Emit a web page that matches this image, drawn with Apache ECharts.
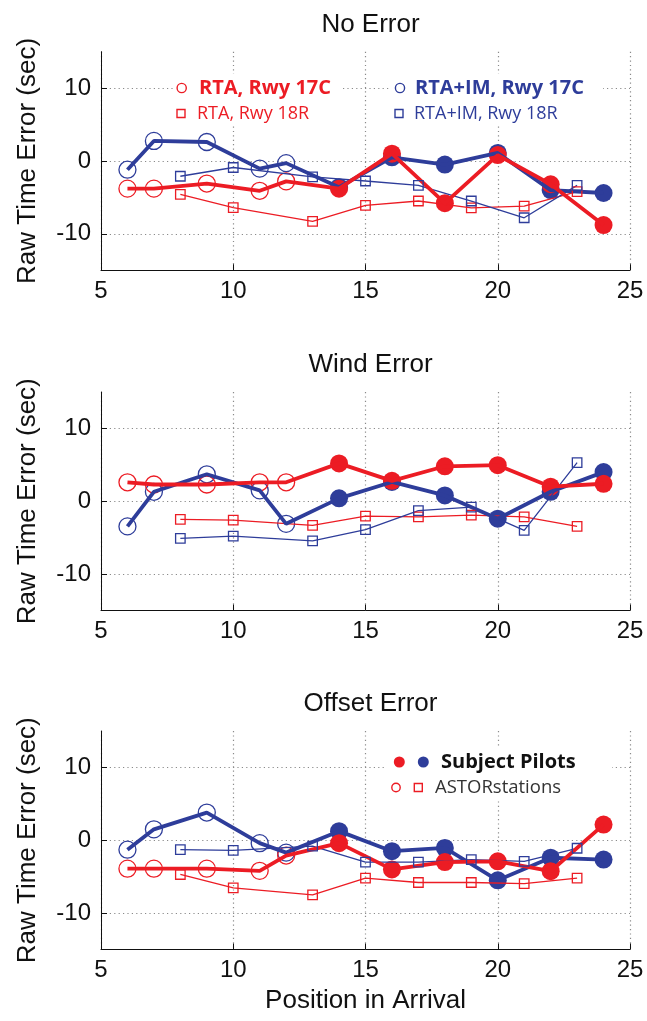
<!DOCTYPE html>
<html>
<head>
<meta charset="utf-8">
<script src="https://cdn.jsdelivr.net/npm/echarts@6/dist/echarts.min.js"></script>
<style>
  html, body { margin: 0; padding: 0; background: #fff; }
  #chart { width: 647px; height: 1021px; }
</style>
</head>
<body>
<div id="chart"></div>
<script>
// Arrival positions of each aircraft group
const posAstor17C = [6, 7, 9, 11, 12];          // ASTOR stations, Rwy 17C
const posPilot17C = [14, 16, 18, 20, 22, 24];   // subject pilots, Rwy 17C
const pos18R = [8, 10, 13, 15, 17, 19, 21, 23]; // ASTOR stations, Rwy 18R

const panelTitles = ['No Error', 'Wind Error', 'Offset Error'];
const xTickValues = [5, 10, 15, 20, 25];
const yTickValues = [-10, 0, 10];

// No Error (sec)
const noErrRta17Astor = [-3.8, -3.8, -3.1, -4.1, -2.8];
const noErrRta17Pilot = [-3.8, 1.0, -5.8, 0.8, -3.2, -8.8];
const noErrIm17Astor = [-1.2, 2.75, 2.6, -1.05, -0.3];
const noErrIm17Pilot = [-3.6, 0.5, -0.5, 1.1, -4.0, -4.4];
const noErrRta18 = [-4.6, -6.4, -8.3, -6.1, -5.5, -6.45, -6.2, -4.2];
const noErrIm18 = [-2.1, -0.9, -2.2, -2.75, -3.35, -5.5, -7.8, -3.35];

// Wind Error (sec)
const windRta17Astor = [2.6, 2.3, 2.3, 2.6, 2.6];
const windRta17Pilot = [5.2, 2.8, 4.8, 4.95, 2.0, 2.4];
const windIm17Astor = [-3.45, 1.3, 3.7, 1.5, -3.1];
const windIm17Pilot = [0.4, 2.65, 0.8, -2.4, 1.3, 4.0];
const windRta18 = [-2.5, -2.6, -3.3, -2.05, -2.15, -1.9, -2.15, -3.45];
const windIm18 = [-5.1, -4.8, -5.45, -3.9, -1.3, -0.8, -4.0, 5.3];

// Offset Error (sec)
const offRta17Astor = [-3.9, -3.9, -3.9, -4.2, -2.1];
const offRta17Pilot = [-0.4, -4.0, -3.0, -2.9, -4.25, 2.15];
const offIm17Astor = [-1.3, 1.5, 3.8, -0.4, -1.7];
const offIm17Pilot = [1.25, -1.5, -1.05, -5.5, -2.4, -2.65];
const offRta18 = [-4.7, -6.55, -7.5, -5.2, -5.8, -5.8, -5.95, -5.2];
const offIm18 = [-1.3, -1.4, -0.8, -3.0, -3.0, -2.65, -2.9, -1.1];

const panels = [
  { rta17a: noErrRta17Astor, rta17p: noErrRta17Pilot, im17a: noErrIm17Astor, im17p: noErrIm17Pilot, rta18: noErrRta18, im18: noErrIm18 },
  { rta17a: windRta17Astor, rta17p: windRta17Pilot, im17a: windIm17Astor, im17p: windIm17Pilot, rta18: windRta18, im18: windIm18 },
  { rta17a: offRta17Astor, rta17p: offRta17Pilot, im17a: offIm17Astor, im17p: offIm17Pilot, rta18: offRta18, im18: offIm18 }
];

const RED = '#ec1c24';
const BLUE = '#2e3d9a';
const FONT = '"Liberation Sans", Arial, sans-serif';
const LEGEND_FONT = '"Open Sans", "Noto Sans", sans-serif';

const gridTops = [51.7, 392, 731];
const gridLeft = 101, gridWidth = 529, gridHeight = 218.5;

const zip = (xs, ys) => xs.map((x, i) => [x, ys[i]]);

const grids = [], xAxes = [], yAxes = [], series = [], titles = [];

panels.forEach((p, i) => {
  grids.push({ left: gridLeft, top: gridTops[i], width: gridWidth, height: gridHeight, containLabel: false });
  titles.push({
    text: panelTitles[i], left: gridLeft + gridWidth / 2, top: gridTops[i] - 45, textAlign: 'center',
    textStyle: { fontFamily: FONT, fontSize: 26, fontWeight: 'normal', color: '#111' }
  });
  const isLast = i === panels.length - 1;
  xAxes.push({
    gridIndex: i, type: 'value', min: 5, max: 25, interval: 5,
    name: isLast ? 'Position in Arrival' : '', nameLocation: 'middle', nameGap: 38,
    nameTextStyle: { fontFamily: FONT, fontSize: 26, color: '#111' },
    axisLine: { show: true, onZero: false, lineStyle: { color: '#111', width: 1 } },
    axisTick: { show: true, inside: true, length: 6, lineStyle: { color: '#111' } },
    axisLabel: { fontFamily: FONT, fontSize: 24, color: '#111', margin: 9, showMinLabel: true, showMaxLabel: true },
    splitLine: { show: true, lineStyle: { color: '#8a8a8a', width: 1.2, type: [1.2, 3.2] } }
  });
  yAxes.push({
    gridIndex: i, type: 'value', min: -15, max: 15,
    name: 'Raw Time Error (sec)', nameLocation: 'middle', nameGap: 60,
    nameTextStyle: { fontFamily: FONT, fontSize: 26, color: '#111' },
    axisLine: { show: true, onZero: false, lineStyle: { color: '#111', width: 1 } },
    axisTick: { show: true, inside: true, length: 6, customValues: yTickValues, lineStyle: { color: '#111' } },
    axisLabel: { fontFamily: FONT, fontSize: 24, color: '#111', margin: 10, customValues: yTickValues },
    splitLine: { show: true, lineStyle: { color: '#8a8a8a', width: 1.2, type: [1.2, 3.2] } }
  });

  const thin = (name, data, color) => ({
    name, type: 'line', xAxisIndex: i, yAxisIndex: i, data,
    symbol: 'rect', symbolSize: 9.5, showSymbol: true,
    lineStyle: { color, width: 1.3 },
    itemStyle: { color: 'rgba(255,255,255,0)', borderColor: color, borderWidth: 1.3 },
    silent: true
  });
  const thick = (name, data, color) => ({
    name, type: 'line', xAxisIndex: i, yAxisIndex: i, data,
    showSymbol: false, symbol: 'none',
    lineStyle: { color, width: 3.8 }, itemStyle: { color }, silent: true
  });
  const openDots = (name, data, color) => ({
    name, type: 'scatter', xAxisIndex: i, yAxisIndex: i, data,
    symbol: 'circle', symbolSize: 17,
    itemStyle: { color: 'rgba(255,255,255,0)', borderColor: color, borderWidth: 1.3, opacity: 1 }, silent: true
  });
  const filledDots = (name, data, color) => ({
    name, type: 'scatter', xAxisIndex: i, yAxisIndex: i, data,
    symbol: 'circle', symbolSize: 18, itemStyle: { color, opacity: 1 }, silent: true
  });

  series.push(thin('RTA, Rwy 18R', zip(pos18R, p.rta18), RED));
  series.push(thin('RTA+IM, Rwy 18R', zip(pos18R, p.im18), BLUE));
  series.push(thick('RTA+IM, Rwy 17C', zip(posAstor17C.concat(posPilot17C), p.im17a.concat(p.im17p)), BLUE));
  series.push(openDots('RTA+IM, Rwy 17C ASTOR', zip(posAstor17C, p.im17a), BLUE));
  series.push(filledDots('RTA+IM, Rwy 17C pilots', zip(posPilot17C, p.im17p), BLUE));
  series.push(thick('RTA, Rwy 17C', zip(posAstor17C.concat(posPilot17C), p.rta17a.concat(p.rta17p)), RED));
  series.push(openDots('RTA, Rwy 17C ASTOR', zip(posAstor17C, p.rta17a), RED));
  series.push(filledDots('RTA, Rwy 17C pilots', zip(posPilot17C, p.rta17p), RED));
});

// Legend blocks drawn as graphics
const legendText = (x, y, text, color, size, bold) => ({
  type: 'text', x, y, z: 10,
  style: { text, fill: color, font: (bold ? 'bold ' : '') + size + 'px ' + LEGEND_FONT, verticalAlign: 'middle', align: 'left' }
});
const legendCircle = (cx, cy, r, color, filled) => ({
  type: 'circle', z: 10, shape: { cx, cy, r },
  style: filled ? { fill: color } : { fill: 'none', stroke: color, lineWidth: 1.4 }
});
const legendSquare = (cx, cy, s, color) => ({
  type: 'rect', z: 10, shape: { x: cx - s / 2, y: cy - s / 2, width: s, height: s },
  style: { fill: 'none', stroke: color, lineWidth: 1.4 }
});
const whiteBox = (x, y, w, h) => ({ type: 'rect', z: 9, shape: { x, y, width: w, height: h }, style: { fill: '#fff' } });

const graphics = [
  whiteBox(173, 74, 170, 51),
  whiteBox(391, 74, 212, 51),
  legendCircle(181.7, 88, 4.6, RED, false),
  legendText(199, 88, 'RTA, Rwy 17C', RED, 20, true),
  legendSquare(181, 113.5, 8, RED),
  legendText(197, 113.5, 'RTA, Rwy 18R', RED, 18, false),
  legendCircle(400, 88, 4.6, BLUE, false),
  legendText(415, 88, 'RTA+IM, Rwy 17C', BLUE, 20, true),
  legendSquare(399, 113.5, 8, BLUE),
  legendText(414, 113.5, 'RTA+IM, Rwy 18R', BLUE, 18, false),

  whiteBox(386, 746, 226, 53),
  legendCircle(399.3, 762, 5.5, RED, true),
  legendCircle(423.3, 762, 5.5, BLUE, true),
  legendText(441, 762, 'Subject Pilots', '#111', 20, true),
  legendCircle(396, 787.5, 4.2, RED, false),
  legendSquare(418.3, 787.5, 8, RED),
  legendText(435, 787.5, 'ASTORstations', '#333', 18.5, false)
];

const chart = echarts.init(document.getElementById('chart'), null, { renderer: 'canvas' });
chart.setOption({
  animation: false,
  backgroundColor: '#fff',
  title: titles,
  grid: grids,
  xAxis: xAxes,
  yAxis: yAxes,
  series,
  graphic: graphics
});
</script>
</body>
</html>
